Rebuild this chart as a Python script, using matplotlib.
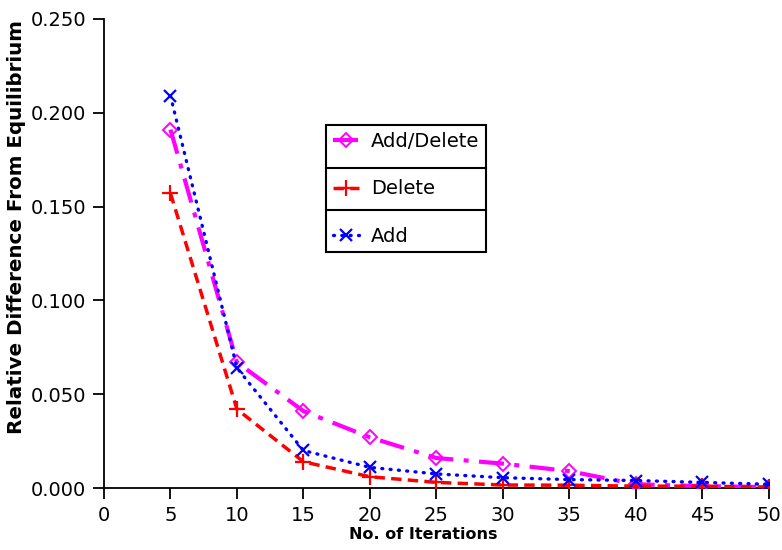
import numpy as np
import matplotlib
matplotlib.use("Agg")
import matplotlib.pyplot as plt
from matplotlib.lines import Line2D

iterations = [5, 10, 15, 20, 25, 30, 35, 40, 45, 50]
add_delete = [0.191, 0.067, 0.041, 0.027, 0.016, 0.013, 0.009, 0.002, 0.001, 0.0005]
delete = [0.157, 0.042, 0.014, 0.006, 0.003, 0.0016, 0.0015, 0.001, 0.001, 0.0005]
add = [0.209, 0.064, 0.020, 0.011, 0.0075, 0.0055, 0.0045, 0.004, 0.003, 0.002]

x_ticks = list(range(0, 51, 5))
y_ticks = [0.0, 0.05, 0.10, 0.15, 0.20, 0.25]

plt.rcParams["font.family"] = ["DejaVu Sans"]

fig = plt.figure(figsize=(7.82, 5.50), dpi=100)
ax = fig.add_axes([0.133, 0.1127, 0.850, 0.853])

ax.plot(iterations, add_delete, color="#ff00ff", lw=3, ls=(0, (6, 2.5, 1.2, 2.5)),
        marker="D", ms=7.5, mfc="none", mec="#ff00ff", mew=1.4, label="Add/Delete", zorder=3)
ax.plot(iterations, delete, color="#ff0000", lw=2.5, ls=(0, (3, 1.8)),
        marker="+", ms=11, mew=1.6, label="Delete", zorder=3)
ax.plot(iterations, add, color="#0000ff", lw=2.4, ls=(0, (0.3, 2.2)),
        dash_capstyle="round", marker="x", ms=9, mew=1.6, label="Add", zorder=3)

ax.set_xlim(0, 50)
ax.set_ylim(0, 0.25)
ax.set_xticks(x_ticks)
ax.set_yticks(y_ticks)
ax.set_yticklabels([f"{v:.3f}" for v in y_ticks])
ax.spines["top"].set_visible(False)
ax.spines["right"].set_visible(False)
for s in ("left", "bottom"):
    ax.spines[s].set_linewidth(1.3)
ax.tick_params(direction="out", length=8, width=1.3, labelsize=14, pad=5)
ax.set_xlabel("No. of Iterations", fontsize=11.5, fontweight="bold")
ax.set_ylabel("Relative Difference From Equilibrium", fontsize=14.3, fontweight="bold")
ax.xaxis.set_label_coords(0.48, -0.083)
ax.yaxis.set_label_coords(-0.118, 0.557)

leg = ax.legend(loc="upper left", bbox_to_anchor=(0.334, 0.773), fontsize=14,
                frameon=True, fancybox=False, edgecolor="black", framealpha=1,
                borderpad=0.35, labelspacing=1.45, handlelength=1.35, handletextpad=0.6,
                borderaxespad=0)
leg.get_frame().set_linewidth(1.5)

# separators between the legend rows
fig.canvas.draw()
bb = leg.get_window_extent().transformed(fig.transFigure.inverted())
for k in (1, 2):
    yk = bb.y1 - (bb.y1 - bb.y0) * k / 3
    fig.add_artist(Line2D([bb.x0, bb.x1], [yk, yk], color="black", lw=1.5,
                          transform=fig.transFigure))

fig.savefig("out.png", dpi=100)
